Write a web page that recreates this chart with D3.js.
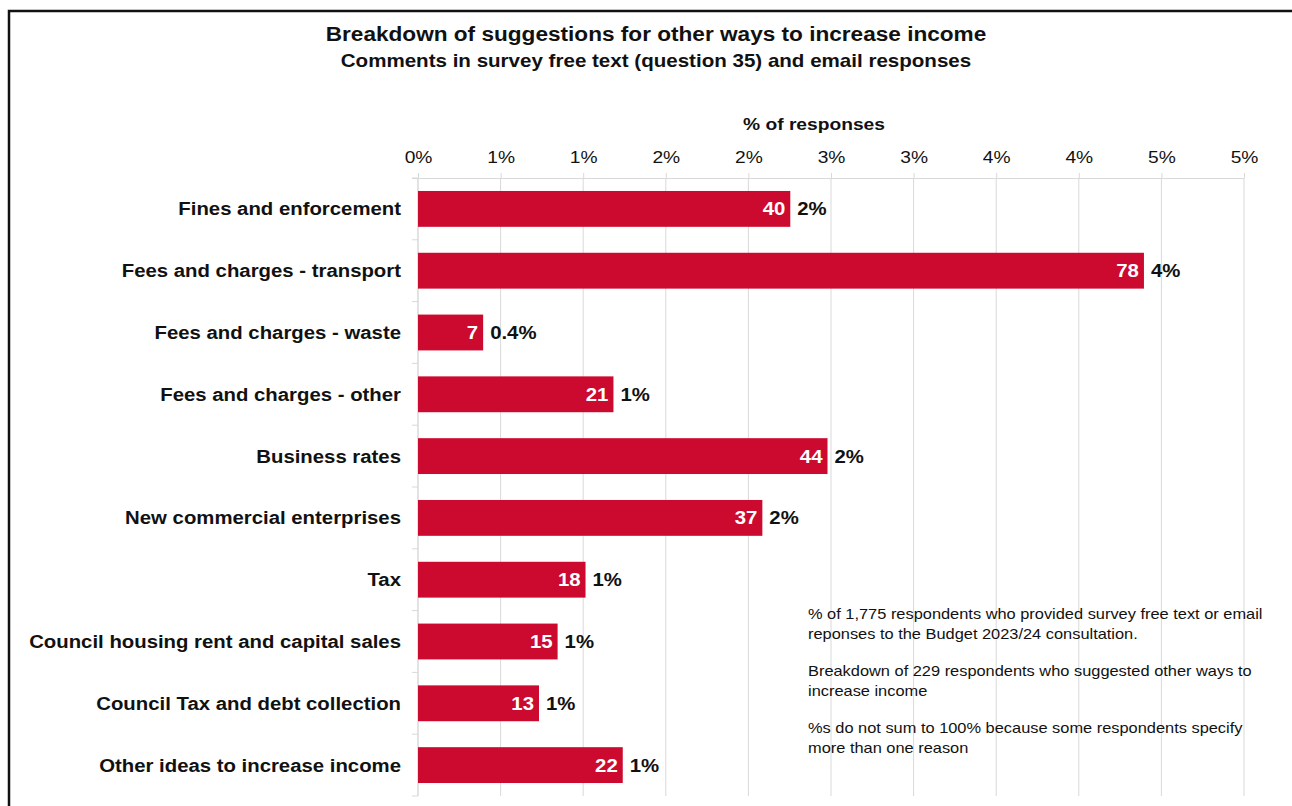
<!DOCTYPE html>
<html>
<head>
<meta charset="utf-8">
<script src="https://cdn.jsdelivr.net/npm/d3@7"></script>
<style>
  html, body { margin: 0; padding: 0; background: #fff; }
  svg { display: block; font-family: "Liberation Sans", Arial, sans-serif; }
</style>
</head>
<body>
<svg id="chart" width="1292" height="806"></svg>
<script>
const categories = [
  "Fines and enforcement",
  "Fees and charges - transport",
  "Fees and charges - waste",
  "Fees and charges - other",
  "Business rates",
  "New commercial enterprises",
  "Tax",
  "Council housing rent and capital sales",
  "Council Tax and debt collection",
  "Other ideas to increase income"
];
const counts = [40, 78, 7, 21, 44, 37, 18, 15, 13, 22];
const totalRespondents = 1775;
const pctLabels = ["2%", "4%", "0.4%", "1%", "2%", "2%", "1%", "1%", "1%", "1%"];
const tickValues = [0, 0.005, 0.01, 0.015, 0.02, 0.025, 0.03, 0.035, 0.04, 0.045, 0.05];
const tickLabels = ["0%", "1%", "1%", "2%", "2%", "3%", "3%", "4%", "4%", "5%", "5%"];
const titleText = "Breakdown of suggestions for other ways to increase income";
const subtitleText = "Comments in survey free text (question 35) and email responses";
const axisTitle = "% of responses";
const notes = [
  ["% of 1,775 respondents who provided survey free text or email", "reponses to the Budget 2023/24 consultation."],
  ["Breakdown of 229 respondents who suggested other ways to", "increase income"],
  ["%s do not sum to 100% because some respondents specify", "more than one reason"]
];

const svg = d3.select("#chart");
const barColor = "#CC0A2F";
const gridColor = "#d9d9d9";
const stretch = 1.13;

// border frame
svg.append("path")
  .attr("d", "M9,806 V11 H1292")
  .attr("fill", "none").attr("stroke", "#111").attr("stroke-width", 2.5);

const pLeft = 418, pRight = 1244, pTop = 178, pBottom = 796;
const x = d3.scaleLinear().domain([0, 0.05]).range([pLeft, pRight]);
const y = d3.scaleBand().domain(categories).range([pTop, pBottom]).paddingInner(0.42).paddingOuter(0.21);

// gridlines
svg.append("g").selectAll("line").data(tickValues).join("line")
  .attr("x1", d => x(d)).attr("x2", d => x(d))
  .attr("y1", pTop).attr("y2", pBottom)
  .attr("stroke", gridColor).attr("stroke-width", 1);

// top axis
const xAxis = d3.axisTop(x).tickValues(tickValues)
  .tickFormat((d, i) => tickLabels[i]).tickSize(5).tickPadding(10);
const gx = svg.append("g").attr("transform", `translate(0,${pTop})`).call(xAxis);
gx.select(".domain").attr("stroke", gridColor).attr("d", `M${pLeft - 6},0.5H${pRight}`);
gx.selectAll(".tick line").attr("stroke", gridColor);
gx.selectAll(".tick text").attr("font-size", 17).attr("fill", "#111")
  .attr("font-family", "Liberation Sans, Arial, sans-serif");

// y axis line with boundary ticks
const boundaries = d3.range(categories.length + 1).map(i => pTop + i * (pBottom - pTop) / categories.length);
svg.append("line").attr("x1", pLeft).attr("x2", pLeft).attr("y1", pTop).attr("y2", pBottom)
  .attr("stroke", gridColor);
svg.append("g").selectAll("line").data(boundaries).join("line")
  .attr("x1", pLeft - 6).attr("x2", pLeft).attr("y1", d => d).attr("y2", d => d)
  .attr("stroke", gridColor);

// bars
svg.append("g").selectAll("rect").data(categories).join("rect")
  .attr("x", pLeft)
  .attr("y", d => y(d))
  .attr("width", (d, i) => x(counts[i] / totalRespondents) - pLeft)
  .attr("height", y.bandwidth())
  .attr("fill", barColor);

// count labels inside bars
svg.append("g").selectAll("text").data(categories).join("text")
  .attr("x", (d, i) => x(counts[i] / totalRespondents) - 5)
  .attr("y", d => y(d) + y.bandwidth() / 2)
  .attr("dy", "0.36em")
  .attr("text-anchor", "end")
  .attr("font-size", 18).attr("font-weight", "bold").attr("fill", "#fff")
  .text((d, i) => counts[i]);

// percentage labels outside bars
svg.append("g").selectAll("text").data(categories).join("text")
  .attr("x", (d, i) => x(counts[i] / totalRespondents) + 7)
  .attr("y", d => y(d) + y.bandwidth() / 2)
  .attr("dy", "0.36em")
  .attr("font-size", 18).attr("font-weight", "bold").attr("fill", "#111")
  .text((d, i) => pctLabels[i]);

// category labels
svg.append("g").selectAll("text").data(categories).join("text")
  .attr("x", 401)
  .attr("y", d => y(d) + y.bandwidth() / 2)
  .attr("dy", "0.36em")
  .attr("text-anchor", "end")
  .attr("font-size", 18).attr("font-weight", "bold").attr("fill", "#111")
  .text(d => d);

// titles
svg.append("text").attr("x", 656).attr("y", 41).attr("text-anchor", "middle")
  .attr("font-size", 20).attr("font-weight", "bold").attr("fill", "#111").text(titleText);
svg.append("text").attr("x", 656).attr("y", 67).attr("text-anchor", "middle")
  .attr("font-size", 18.2).attr("font-weight", "bold").attr("fill", "#111").text(subtitleText);
svg.append("text").attr("x", 814).attr("y", 130).attr("text-anchor", "middle")
  .attr("font-size", 17).attr("font-weight", "bold").attr("fill", "#111").text(axisTitle);

// notes
const notesG = svg.append("g");
let ny = 619;
notes.forEach(para => {
  para.forEach((line, j) => {
    notesG.append("text").attr("x", 808).attr("y", ny + j * 19.5)
      .attr("font-size", 14.5).attr("fill", "#111").text(line);
  });
  ny += 57;
});

// widen glyphs horizontally to match the reference's letter widths
svg.selectAll("text").each(function () {
  const len = this.getComputedTextLength();
  if (len > 0) {
    d3.select(this).attr("textLength", len * stretch).attr("lengthAdjust", "spacingAndGlyphs");
  }
});
</script>
</body>
</html>
